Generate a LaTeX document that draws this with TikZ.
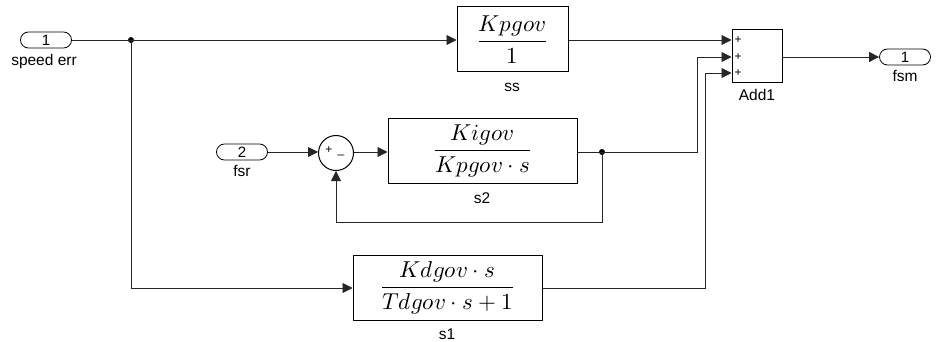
\documentclass[tikz,border=0pt]{standalone}
\usepackage{fontspec}
\setmainfont{Liberation Sans}
\usepackage{unicode-math}
\usetikzlibrary{arrows.meta,calc}
\begin{document}
\begin{tikzpicture}[x=1pt,y=-1pt,
  lbl/.style={font=\fontsize{15.5}{15.5}\selectfont, inner sep=0pt},
  port/.style={draw, line width=0.8pt, rounded corners=8pt, minimum width=51pt, minimum height=16pt, inner sep=0pt, font=\fontsize{15}{15}\selectfont},
  blk/.style={draw, line width=1pt, fill=white, inner sep=0pt},
  wire/.style={line width=0.9pt, draw=black!85},
  arr/.style={wire, -{Triangle[length=10pt,width=10pt]}},
  dot/.style={circle, fill=black, inner sep=0pt, minimum size=6pt},
  sgn/.style={font=\fontsize{12}{12}\selectfont, inner sep=0pt},
  mth/.style={font=\fontsize{23}{23}\selectfont}
]
\useasboundingbox (0,0) rectangle (937,342);
% ports
\node[port] (in1) at (46,40) {1};
\node[lbl] at (44,61) {speed err};
\node[port] (in2) at (242,152) {2};
\node[lbl] at (242,171) {fsr};
\node[port] (out1) at (905,57) {1};
\node[lbl] at (905,76) {fsm};
% blocks
\node[blk, minimum width=111pt, minimum height=65pt] (ss) at (512.5,39.5) {};
\node[mth] at (ss.center) {$\dfrac{Kpgov}{1}$};
\node[lbl] at (512,87) {ss};
\node[blk, minimum width=189pt, minimum height=65pt] (s2) at (482.5,151) {};
\node[mth] at (s2.center) {$\dfrac{Kigov}{Kpgov\cdot s}$};
\node[lbl] at (482,198) {s2};
\node[blk, minimum width=189pt, minimum height=65pt] (s1) at (447.5,288) {};
\node[mth] at (s1.center) {$\dfrac{Kdgov\cdot s}{Tdgov\cdot s+1}$};
\node[lbl] at (447,334) {s1};
\node[blk, minimum width=50pt, minimum height=53pt] (add) at (757,56.5) {};
\node[lbl] at (757,95) {Add1};
\node[sgn] at (738,40) {+};
\node[sgn] at (738,57) {+};
\node[sgn] at (738,73) {+};
\node[draw, circle, line width=1pt, minimum size=35pt, inner sep=0pt] (sum) at (336,153) {};
\node[sgn] at (329,150) {+};
\node[sgn] at (341,155) {\_};
% junctions
\coordinate (j1) at (131,40);
\node[dot] at (j1) {};
\coordinate (j2) at (602,152);
\node[dot] at (j2) {};
% wires
\draw[wire] (in1.east) -- (j1);
\draw[arr] (j1) -- (ss.west |- j1);
\draw[arr] (j1) -- (131,288) -- (s1.west |- 0,288);
\draw[arr] (ss.east |- 0,40) -- (add.west |- 0,40);
\draw[arr] (in2.east) -- (sum.west |- 0,152);
\draw[arr] (sum.east |- 0,152) -- (s2.west |- 0,152);
\draw[wire] (s2.east |- 0,152) -- (j2);
\draw[arr] (j2) -- (697,152) -- (697,57) -- (add.west |- 0,57);
\draw[arr] (j2) -- (602,222) -- (336,222) -- (sum.south);
\draw[arr] (s1.east |- 0,288) -- (705,288) -- (705,73) -- (add.west |- 0,73);
\draw[arr] (add.east |- 0,57) -- (out1.west);
\end{tikzpicture}
\end{document}
